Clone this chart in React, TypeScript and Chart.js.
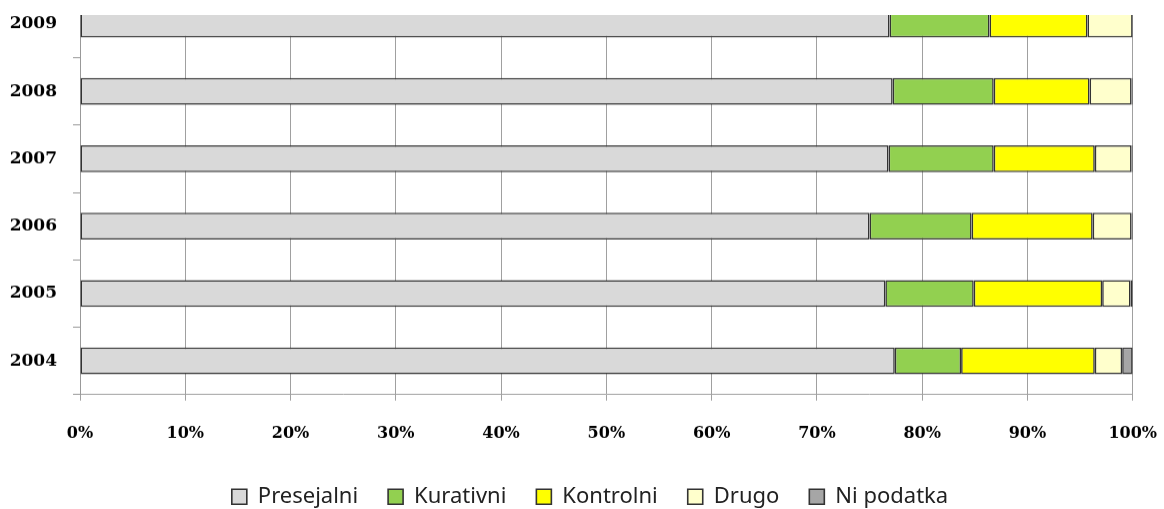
import React, { useEffect, useRef } from 'react';
import { Chart, registerables } from 'chart.js';

Chart.register(...registerables);

const years = ['2009', '2008', '2007', '2006', '2005', '2004'];
const presejalni = [76.9, 77.2, 76.8, 75.0, 76.5, 77.4];
const kurativni = [9.5, 9.6, 10.0, 9.7, 8.4, 6.3];
const kontrolni = [9.3, 9.1, 9.6, 11.5, 12.2, 12.7];
const drugo = [4.3, 4.0, 3.5, 3.7, 2.7, 2.6];
const niPodatka = [0, 0.1, 0.1, 0.1, 0.2, 1.0];
const seriesNames = ['Presejalni', 'Kurativni', 'Kontrolni', 'Drugo', 'Ni podatka'];
const seriesValues = [presejalni, kurativni, kontrolni, drugo, niPodatka];
const seriesColors = ['#D9D9D9', '#92D050', '#FFFF00', '#FFFFCC', '#A6A6A6'];

export default function App() {
  const ref = useRef<HTMLCanvasElement | null>(null);

  useEffect(() => {
    if (!ref.current) return;
    const chart = new Chart(ref.current, {
      type: 'bar',
      data: {
        labels: years,
        datasets: seriesNames.map((name, i) => ({
          label: name,
          data: seriesValues[i],
          backgroundColor: seriesColors[i],
          borderColor: '#333333',
          borderWidth: 1.6,
          borderSkipped: false,
          categoryPercentage: 1,
          barPercentage: 0.4,
        })),
      },
      options: {
        indexAxis: 'y',
        animation: false,
        responsive: true,
        maintainAspectRatio: false,
        layout: { padding: 0 },
        plugins: {
          tooltip: { enabled: false },
          legend: {
            position: 'bottom',
            labels: {
              boxWidth: 15,
              boxHeight: 15,
              padding: 30,
              color: '#222',
              font: { family: '"Noto Sans"', size: 22 },
            },
          },
        },
        scales: {
          x: {
            stacked: true,
            min: 0,
            max: 100,
            ticks: {
              stepSize: 10,
              padding: 23,
              color: '#000',
              maxRotation: 0,
              font: { family: '"DejaVu Serif"', size: 16, weight: 'bold' },
              callback: (v: any) => v + '%',
            },
            grid: { color: '#a0a0a0', lineWidth: 1, tickLength: 6, drawTicks: true },
            border: { color: '#a0a0a0', width: 1 },
            afterFit: (scale: any) => { scale.height = 61; },
          },
          y: {
            stacked: true,
            ticks: {
              padding: 16,
              color: '#000',
              font: { family: '"DejaVu Serif"', size: 17, weight: 'bold' },
            },
            grid: { drawOnChartArea: false, color: '#999', tickLength: 7, offset: true },
            border: { color: '#999', width: 1 },
            afterFit: (scale: any) => { scale.width = 80; },
          },
        },
      },
    });
    return () => chart.destroy();
  }, []);

  return (
    <div style={{ position: 'absolute', left: 0, top: 15, width: 1164, height: 494, overflow: 'hidden', background: '#fff' }}>
      <div style={{ position: 'absolute', left: 0, top: -50.8, width: 1180, height: 552.8 }}>
        <canvas ref={ref} />
      </div>
    </div>
  );
}
